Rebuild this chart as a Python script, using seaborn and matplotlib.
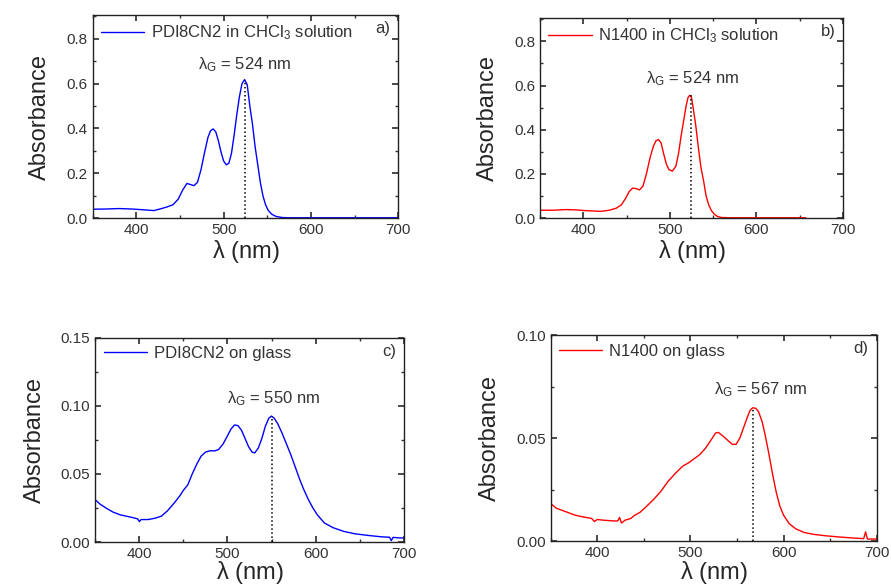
import matplotlib
matplotlib.use('Agg')
import matplotlib.pyplot as plt
from matplotlib.ticker import MultipleLocator, FormatStrFormatter
import pandas as pd
import seaborn as sns

# PDI8CN2 in CHCl3 solution
wl_a = [350, 365, 380, 395, 410, 420, 428, 435, 442, 448, 453, 458, 462, 466, 470, 474, 478, 482, 485,
        488, 491, 494, 497, 500, 503, 506, 509, 512, 515, 518, 521, 524, 527, 530, 533, 536, 539, 542,
        545, 548, 551, 555, 560, 567, 575, 600, 650, 700]
abs_a = [0.040, 0.041, 0.043, 0.041, 0.037, 0.034, 0.042, 0.050, 0.060, 0.085, 0.125, 0.155, 0.150, 0.145,
         0.160, 0.215, 0.290, 0.360, 0.390, 0.398, 0.385, 0.345, 0.295, 0.255, 0.238, 0.245, 0.290, 0.370,
         0.460, 0.540, 0.600, 0.618, 0.595, 0.500, 0.420, 0.320, 0.240, 0.160, 0.100, 0.060, 0.035, 0.018,
         0.008, 0.003, 0.002, 0.002, 0.002, 0.002]

# N1400 in CHCl3 solution
wl_b = [350, 365, 380, 390, 400, 410, 420, 430, 438, 444, 449, 453, 457, 461, 465, 469, 473, 477, 481, 484,
        487, 490, 493, 496, 499, 503, 507, 510, 513, 516, 519, 521, 523, 525, 527, 530, 533, 536, 539, 542,
        545, 548, 551, 555, 560, 570, 600, 630, 657]
abs_b = [0.036, 0.036, 0.039, 0.038, 0.035, 0.033, 0.031, 0.036, 0.045, 0.060, 0.090, 0.120, 0.136, 0.134,
         0.128, 0.145, 0.200, 0.270, 0.325, 0.350, 0.356, 0.340, 0.290, 0.245, 0.220, 0.213, 0.235, 0.290,
         0.370, 0.440, 0.510, 0.545, 0.556, 0.548, 0.500, 0.420, 0.320, 0.230, 0.170, 0.100, 0.060, 0.035,
         0.020, 0.008, 0.003, 0.002, 0.002, 0.002, 0.002]

# PDI8CN2 on glass
wl_c = [350, 355, 362, 370, 378, 385, 392, 398, 400, 402, 410, 418, 425, 432, 440, 446, 450, 455, 460, 465,
        470, 475, 480, 486, 490, 495, 500, 504, 508, 512, 516, 520, 524, 528, 531, 535, 539, 543, 547, 550,
        553, 557, 562, 567, 572, 577, 582, 587, 592, 597, 602, 610, 620, 632, 645, 660, 675, 684, 686, 688,
        695, 700]
abs_c = [0.031, 0.028, 0.025, 0.022, 0.020, 0.019, 0.018, 0.017, 0.015, 0.0165, 0.0165, 0.0175, 0.019,
         0.023, 0.029, 0.034, 0.038, 0.042, 0.050, 0.057, 0.063, 0.066, 0.067, 0.067, 0.068, 0.072, 0.078,
         0.083, 0.086, 0.0855, 0.082, 0.076, 0.070, 0.066, 0.0655, 0.069, 0.076, 0.085, 0.091, 0.0925, 0.091,
         0.087, 0.080, 0.072, 0.064, 0.055, 0.046, 0.038, 0.031, 0.025, 0.020, 0.014, 0.0105, 0.0078, 0.006,
         0.0048, 0.0038, 0.0035, 0.001, 0.0034, 0.003, 0.003]

# N1400 on glass
wl_d = [350, 356, 362, 368, 375, 382, 388, 394, 397, 400, 406, 412, 418, 422, 424, 426, 430, 436, 440, 446,
        452, 460, 468, 476, 484, 492, 498, 504, 510, 516, 522, 527, 530, 535, 540, 545, 549, 553, 557, 561,
        564, 567, 570, 573, 577, 580, 584, 588, 592, 596, 600, 606, 613, 622, 632, 645, 660, 675, 686, 688,
        690, 695, 700]
abs_d = [0.0183, 0.016, 0.015, 0.014, 0.0128, 0.012, 0.0115, 0.011, 0.0095, 0.0105, 0.0102, 0.010, 0.0098,
         0.0098, 0.0115, 0.0088, 0.0102, 0.011, 0.0125, 0.014, 0.0165, 0.020, 0.024, 0.029, 0.033, 0.0365,
         0.038, 0.040, 0.042, 0.045, 0.049, 0.0525, 0.0528, 0.051, 0.049, 0.047, 0.047, 0.050, 0.055, 0.060,
         0.0635, 0.0648, 0.0645, 0.063, 0.058, 0.052, 0.043, 0.033, 0.024, 0.017, 0.0126, 0.0085, 0.006,
         0.0042, 0.0033, 0.0026, 0.002, 0.0015, 0.0012, 0.0045, 0.001, 0.001, 0.001]

labels = ['PDI8CN2 in CHCl$_3$ solution', 'N1400 in CHCl$_3$ solution',
          'PDI8CN2 on glass', 'N1400 on glass']
tags = ['a)', 'b)', 'c)', 'd)']
peaks = [524, 524, 550, 567]
peak_labels = ['524 nm', '524 nm', '550 nm', '567 nm']

sns.set_theme(style='ticks')
plt.rcParams['font.family'] = ['Liberation Sans', 'DejaVu Sans']
plt.rcParams['mathtext.default'] = 'regular'

fig = plt.figure(figsize=(8.91, 5.85), dpi=100)
boxes = [[0.104, 0.627, 0.343, 0.347],
         [0.606, 0.627, 0.340, 0.342],
         [0.107, 0.0735, 0.346, 0.349],
         [0.618, 0.075, 0.366, 0.352]]
series = [(wl_a, abs_a, '#0000ff'), (wl_b, abs_b, '#ff0000'),
          (wl_c, abs_c, '#0000ff'), (wl_d, abs_d, '#ff0000')]
ylims = [0.905, 0.905, 0.15, 0.10]
ymaj = [0.2, 0.2, 0.05, 0.05]
yfmt = ['%.1f', '%.1f', '%.2f', '%.2f']
text_y = [0.685, 0.63, 0.105, 0.0736]
text_dx = [0, 2, 2, 8]
xpad = [1, 1, -1, -1]

for i in range(4):
    ax = fig.add_axes(boxes[i])
    wl, ab, col = series[i]
    df = pd.DataFrame({'wl': wl, 'abs': ab})
    sns.lineplot(data=df, x='wl', y='abs', color=col, lw=1, ax=ax, label=labels[i])
    top = max(ab)
    ax.plot([peaks[i], peaks[i]], [0, top], color='black', ls=':', lw=1.1)
    ax.text(peaks[i] + text_dx[i], text_y[i], r'$\lambda_G$ = ' + peak_labels[i], ha='center', va='center',
            fontsize=12, color='#333333')
    ax.text(0.975, 0.935, tags[i], transform=ax.transAxes, ha='right', va='center', fontsize=12,
            color='#333333')
    ax.set_xlim(350, 700)
    ax.set_ylim(0, ylims[i])
    ax.xaxis.set_major_locator(MultipleLocator(100))
    ax.xaxis.set_minor_locator(MultipleLocator(50))
    ax.yaxis.set_major_locator(MultipleLocator(ymaj[i]))
    ax.yaxis.set_minor_locator(MultipleLocator(ymaj[i] / 2))
    ax.yaxis.set_major_formatter(FormatStrFormatter(yfmt[i]))
    ax.tick_params(which='both', direction='in', top=True, right=True, labelsize=11,
                   labelcolor='#333333', color='#333333')
    ax.tick_params(which='major', length=4)
    ax.tick_params(which='minor', length=2)
    for s in ax.spines.values():
        s.set_linewidth(1.0)
        s.set_color('#222222')
    ax.set_xlabel(r'$\lambda$ (nm)', fontsize=17, labelpad=xpad[i])
    ax.set_ylabel('Absorbance', fontsize=17, labelpad=11)
    leg = ax.legend(loc='upper left', frameon=False, fontsize=12, handlelength=2.6,
                    borderaxespad=0.1, handletextpad=0.4)
    for t in leg.get_texts():
        t.set_color('#333333')

fig.savefig('out.png', dpi=100)
